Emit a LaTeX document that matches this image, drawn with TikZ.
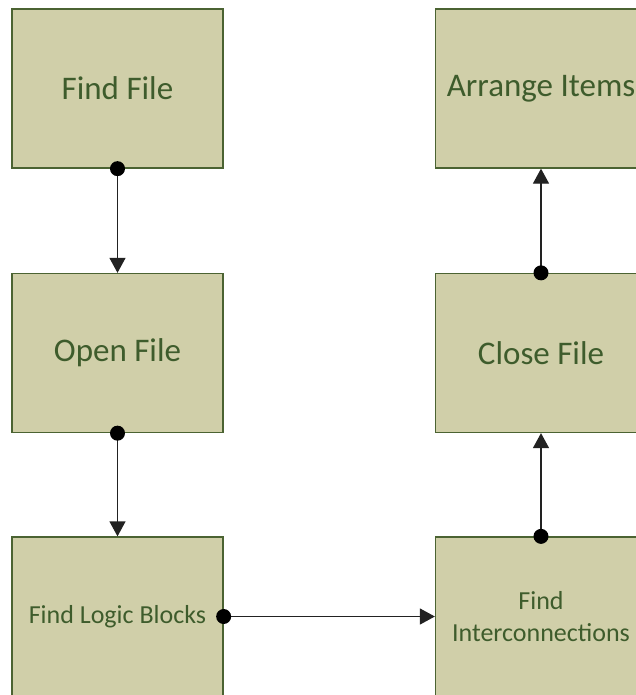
\documentclass[tikz,border=0pt]{standalone}
\usepackage{fontspec}
\setmainfont{Carlito}
\usetikzlibrary{arrows.meta}
\definecolor{boxfill}{HTML}{D0CFA9}
\definecolor{boxline}{HTML}{4B6332}
\definecolor{boxtext}{HTML}{3E5C2C}
\definecolor{wire}{HTML}{222222}
\tikzset{
  stepbox/.style={rectangle, draw=boxline, line width=1.3pt, fill=boxfill,
    minimum width=211pt, minimum height=159pt, inner sep=0pt,
    text=boxtext, align=center},
  bigtext/.style={font=\fontsize{33}{40}\selectfont},
  smalltext/.style={font=\fontsize{26}{32}\selectfont},
  conn/.style={draw=wire, line width=1.3pt, -{Triangle[length=15pt, width=16pt]}},
  joint/.style={fill=black},
}
\begin{document}
\begin{tikzpicture}[x=1pt, y=-1pt]
  \useasboundingbox (0,0) rectangle (636,695);
  \clip (0,0) rectangle (636,695);
  \fill[white] (0,0) rectangle (636,695);

  % process blocks, left column top to bottom, right column bottom to top
  \node[stepbox, bigtext]   (ff) at (117.5, 88.5)  {Find File};
  \node[stepbox, bigtext]   (of) at (117.5, 353)   {Open File};
  \node[stepbox, smalltext] (lb) at (117.5, 616.5) {Find Logic Blocks};
  \node[stepbox, smalltext] (ic) at (541, 616.5)   {Find\\Interconnections};
  \node[stepbox, bigtext]   (cf) at (541, 353)     {Close File};
  \node[stepbox, bigtext]   (ai) at (541, 88.5)    {Arrange Items};

  % connectors
  \draw[conn] (ff.south) -- (of.north);
  \draw[conn] (of.south) -- (lb.north);
  \draw[conn] (lb.east) -- (ic.west);
  \draw[conn] (ic.north) -- (cf.south);
  \draw[conn] (cf.north) -- (ai.south);

  % connection points on the source blocks
  \foreach \p in {ff.south, of.south, lb.east, ic.north, cf.north}
    \fill[joint] (\p) circle (7.5pt);
\end{tikzpicture}
\end{document}
